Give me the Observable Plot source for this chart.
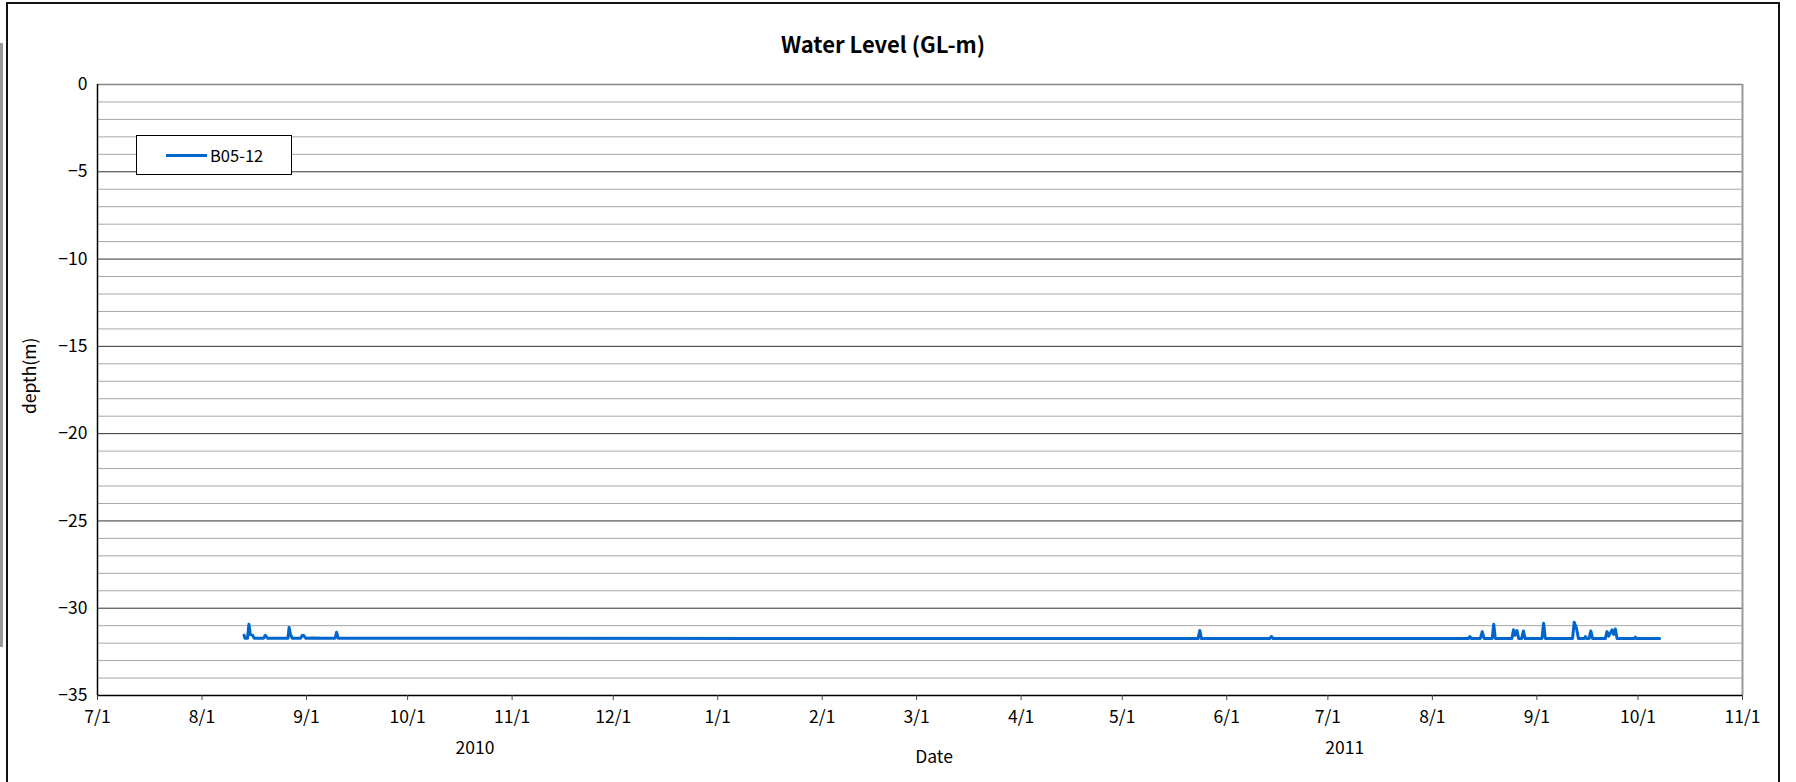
<!DOCTYPE html>
<html>
<head>
<meta charset="utf-8">
<script src="https://cdn.jsdelivr.net/npm/d3@7"></script>
<script src="https://cdn.jsdelivr.net/npm/@observablehq/plot@0.6"></script>
<style>
  html, body { margin: 0; padding: 0; background: #fff; }
  #wrap { position: relative; width: 1796px; height: 782px; overflow: hidden; background: #fff;
          font-family: "Noto Sans CJK JP", "Noto Sans", sans-serif; }
  #frame { position: absolute; left: 6px; top: 2px; width: 1774px; height: 820px; border: 2px solid #111; box-sizing: border-box; }
  #side { position: absolute; left: 0; top: 43px; width: 3px; height: 604px; background: #9a9a9a; }
  #title { position: absolute; left: 0; width: 1766px; top: 28px; text-align: center; font-size: 22px; font-weight: bold; color: #000; line-height: 30px; }
  #chart { position: absolute; left: 0; top: 0; }
  #legend { position: absolute; left: 136px; top: 135px; width: 156px; height: 40px; border: 1px solid #000; box-sizing: border-box; background: #fff; }
  #legend .sw { position: absolute; left: 29px; top: 18px; width: 41px; height: 3px; background: #0066cc; }
  #legend .lb { position: absolute; left: 73px; top: 7px; font-size: 16.5px; line-height: 24px; color: #000; }
</style>
</head>
<body>
<div id="wrap">
  <div id="side"></div>
  <div id="frame"></div>
  <div id="chart"></div>
  <div id="title">Water Level (GL-m)</div>
  <div id="legend"><div class="sw"></div><div class="lb">B05-12</div></div>
</div>
<script>
// ---- data ----
const seriesName = "B05-12";
const obsDates = [
  "2010-08-13T12:00Z","2010-08-13T18:00Z","2010-08-14T12:00Z","2010-08-14T22:00Z","2010-08-15T08:00Z",
  "2010-08-16T00:00Z","2010-08-16T12:00Z","2010-08-19T06:00Z","2010-08-19T19:00Z","2010-08-20T10:00Z",
  "2010-08-26T12:00Z","2010-08-26T20:00Z","2010-08-27T06:00Z","2010-08-27T18:00Z","2010-08-30T06:00Z",
  "2010-08-30T18:00Z","2010-08-31T06:00Z","2010-08-31T18:00Z","2010-09-03T00:00Z","2010-09-06T00:00Z",
  "2010-09-09T12:00Z","2010-09-09T22:00Z","2010-09-10T10:00Z",
  "2011-05-23T12:00Z","2011-05-24T00:00Z","2011-05-24T12:00Z",
  "2011-06-13T18:00Z","2011-06-14T06:00Z","2011-06-14T18:00Z",
  "2011-08-11T18:00Z","2011-08-12T03:00Z","2011-08-12T12:00Z",
  "2011-08-15T06:00Z","2011-08-15T19:00Z","2011-08-16T08:00Z",
  "2011-08-18T18:00Z","2011-08-19T05:00Z","2011-08-19T16:00Z",
  "2011-08-24T14:00Z","2011-08-25T02:00Z","2011-08-25T12:00Z","2011-08-26T02:00Z","2011-08-26T14:00Z",
  "2011-08-27T12:00Z","2011-08-28T00:00Z","2011-08-28T12:00Z",
  "2011-09-02T12:00Z","2011-09-03T00:00Z","2011-09-03T12:00Z",
  "2011-09-11T14:00Z","2011-09-12T02:00Z","2011-09-12T18:00Z","2011-09-13T08:00Z",
  "2011-09-15T03:00Z","2011-09-15T10:00Z","2011-09-15T18:00Z",
  "2011-09-16T12:00Z","2011-09-17T00:00Z","2011-09-17T12:00Z",
  "2011-09-21T08:00Z","2011-09-21T19:00Z","2011-09-22T08:00Z","2011-09-23T07:00Z","2011-09-23T19:00Z",
  "2011-09-24T07:00Z","2011-09-24T19:00Z",
  "2011-09-30T00:00Z","2011-09-30T06:00Z","2011-09-30T12:00Z",
  "2011-10-07T10:00Z"
];
const obsDepths = [
  -31.55,-31.72,-31.72,-30.92,-31.50,
  -31.55,-31.72,-31.72,-31.55,-31.72,
  -31.72,-31.11,-31.50,-31.72,-31.72,
  -31.55,-31.58,-31.72,-31.70,-31.72,
  -31.72,-31.38,-31.72,
  -31.74,-31.28,-31.74,
  -31.74,-31.62,-31.74,
  -31.73,-31.62,-31.73,
  -31.73,-31.34,-31.73,
  -31.73,-30.92,-31.73,
  -31.73,-31.24,-31.55,-31.28,-31.73,
  -31.73,-31.30,-31.73,
  -31.73,-30.86,-31.73,
  -31.73,-30.80,-31.15,-31.73,
  -31.73,-31.62,-31.73,
  -31.73,-31.30,-31.73,
  -31.73,-31.34,-31.60,-31.24,-31.50,
  -31.19,-31.73,
  -31.73,-31.66,-31.73,
  -31.73
];
const xTickDates = ["2010-07-01","2010-08-01","2010-09-01","2010-10-01","2010-11-01","2010-12-01",
  "2011-01-01","2011-02-01","2011-03-01","2011-04-01","2011-05-01","2011-06-01",
  "2011-07-01","2011-08-01","2011-09-01","2011-10-01","2011-11-01"];
const xTickLabels = ["7/1","8/1","9/1","10/1","11/1","12/1","1/1","2/1","3/1","4/1","5/1","6/1",
  "7/1","8/1","9/1","10/1","11/1"];
const yTicks = [0,-5,-10,-15,-20,-25,-30,-35];
const yTickLabels = ["0","−5","−10","−15","−20","−25","−30","−35"];
const yearLabels = ["2010","2011"];
const yearLabelDates = ["2010-10-21","2011-07-06"];
const titleText = "Water Level (GL-m)";
const xTitle = "Date";
const yTitle = "depth(m)";

// ---- build ----
const data = obsDates.map((d, i) => ({date: new Date(d), depth: obsDepths[i]}));
const xT = xTickDates.map(d => new Date(d + "T00:00Z"));
const xDomain = [xT[0], xT[xT.length - 1]];
const yDomain = [-35, 0];
const minorGrid = d3.range(-1, -35, -1).filter(v => v % 5 !== 0);
const majorGrid = yTicks.filter(v => v !== 0 && v !== -35);
const FONT = '"Noto Sans CJK JP", "Noto Sans", sans-serif';
const FS = 17.5;

const chart = Plot.plot({
  width: 1796,
  height: 782,
  marginLeft: 97,
  marginRight: 54,
  marginTop: 84,
  marginBottom: 87,
  style: {fontFamily: FONT, fontSize: FS + "px", color: "#000", background: "transparent"},
  x: {type: "utc", domain: xDomain},
  y: {domain: yDomain},
  marks: [
    Plot.ruleY(minorGrid, {stroke: "#a8a8a8", strokeWidth: 1}),
    Plot.ruleY(majorGrid, {stroke: "#333", strokeWidth: 1}),
    Plot.ruleY([yDomain[1]], {stroke: "#888", strokeWidth: 1.5}),
    Plot.ruleX([xDomain[1]], {stroke: "#999", strokeWidth: 2}),
    Plot.ruleY([yDomain[0]], {stroke: "#000", strokeWidth: 1.5}),
    Plot.ruleX([xDomain[0]], {stroke: "#000", strokeWidth: 1.5}),
    Plot.axisX({ticks: xT, tickFormat: (d, i) => xTickLabels[i], tickSize: 5, tickPadding: 10, stroke: "#444", label: null, fontSize: FS}),
    Plot.axisY({ticks: yTicks, tickFormat: (d, i) => yTickLabels[i], tickSize: 0, tickPadding: 10, label: null, fontSize: FS}),
    Plot.line(data, {x: "date", y: "depth", stroke: "#0066cc", strokeWidth: 3, strokeLinejoin: "round"}),
    Plot.text(yearLabels, {x: (d, i) => new Date(yearLabelDates[i] + "T00:00Z"), frameAnchor: "bottom", dy: 58, text: d => d, fontSize: FS, fill: "#000"}),
    Plot.text([xTitle], {frameAnchor: "bottom", dy: 67, dx: 14, text: d => d, fontSize: FS, fill: "#000"}),
    Plot.text([yTitle], {frameAnchor: "left", rotate: -90, dx: -67, dy: 24, text: d => d, fontSize: FS, fill: "#000"})
  ]
});
document.getElementById("chart").appendChild(chart);
document.getElementById("title").textContent = titleText;
document.querySelector("#legend .lb").textContent = seriesName;
</script>
</body>
</html>
